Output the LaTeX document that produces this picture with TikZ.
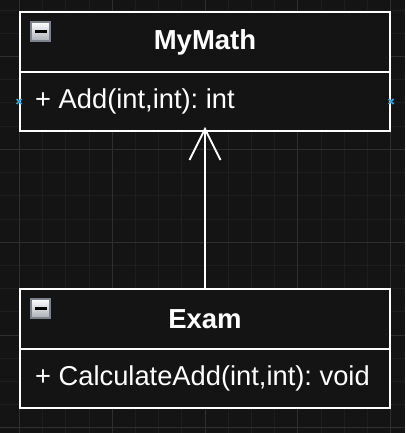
\documentclass[tikz,border=0pt]{standalone}
\usepackage{fontspec}
\setmainfont{Liberation Sans}
\frenchspacing
\begin{document}
\begin{tikzpicture}[x=1pt,y=-1pt,
  hdr/.style={draw=white, line width=2pt, fill=bgc, minimum width=370pt, minimum height=60pt, inner sep=0pt, text=white, font=\fontsize{27.5}{32}\selectfont\bfseries},
  bdy/.style={draw=white, line width=2pt, fill=bgc, minimum width=370pt, minimum height=59pt, inner sep=0pt},
  lbl/.style={anchor=west, inner sep=0pt, text=white, font=\fontsize{27.3}{32}\selectfont\frenchspacing},
  icon/.style={draw=iconb, line width=1.5pt, top color=white, bottom color=iconl, minimum width=19pt, minimum height=19pt, inner sep=0pt},
  minusbar/.style={fill=black, minimum width=12pt, minimum height=3pt, inner sep=0pt},
  conn/.style={white, line width=2pt},
  ptmark/.style={draw=ptblue, line width=1.5pt}
]
\definecolor{bgc}{HTML}{141414}
\definecolor{minorg}{HTML}{1E1E1E}
\definecolor{majorg}{HTML}{2F2F2F}
\definecolor{iconb}{HTML}{7E828A}
\definecolor{iconl}{HTML}{A9ADB5}
\definecolor{ptblue}{HTML}{3AA0D8}
\useasboundingbox (0,0) rectangle (405,433);
\fill[bgc] (0,0) rectangle (405,433);
% grid
\foreach \i in {-1,...,17} {
  \pgfmathsetmacro{\gx}{19.3+23.2*\i}
  \pgfmathsetmacro{\gy}{10.1+23.2*\i}
  \draw[minorg, line width=0.8pt] (\gx,0) -- (\gx,433);
  \draw[minorg, line width=0.8pt] (0,\gy) -- (405,\gy);
}
\foreach \i in {0,...,4} {
  \pgfmathsetmacro{\gx}{19.3+92.8*\i}
  \pgfmathsetmacro{\gy}{56.5+92.8*\i}
  \draw[majorg, line width=0.8pt] (\gx,0) -- (\gx,433);
  \draw[majorg, line width=0.8pt] (0,\gy) -- (405,\gy);
}
% MyMath class
\node[hdr, anchor=north west] (mmh) at (19,11) {MyMath};
\node[bdy, anchor=north west] (mmb) at (19,71) {};
\node[lbl] (mmt) at ([xshift=16pt]mmb.west) {+ Add(int,int): int};
\node[icon] (mmi) at (40.5,31.5) {};
\node[minusbar] (mmm) at (mmi.center) {};
% Exam class
\node[hdr, anchor=north west] (exh) at (19,288) {Exam};
\node[bdy, anchor=north west] (exb) at (19,348) {};
\node[lbl] (ext) at ([xshift=16pt]exb.west) {+ CalculateAdd(int,int): void};
\node[icon] (exi) at (40.5,308.5) {};
\node[minusbar] (exm) at (exi.center) {};
% connection point markers
\coordinate (p1) at (mmb.west);
\coordinate (p2) at (mmb.east);
\draw[ptmark] ([shift={(-2.5,-2.5)}]p1) -- ([shift={(2.5,2.5)}]p1) ([shift={(-2.5,2.5)}]p1) -- ([shift={(2.5,-2.5)}]p1);
\draw[ptmark] ([shift={(-2.5,-2.5)}]p2) -- ([shift={(2.5,2.5)}]p2) ([shift={(-2.5,2.5)}]p2) -- ([shift={(2.5,-2.5)}]p2);
% open arrow
\coordinate (tip) at ([yshift=4pt]mmb.south);
\draw[conn] (exh.north) -- ([yshift=-4pt]tip);
\draw[conn] ([shift={(-15.5,32)}]tip) -- ([yshift=-1pt]tip) -- ([shift={(15.5,32)}]tip);
\end{tikzpicture}
\end{document}
